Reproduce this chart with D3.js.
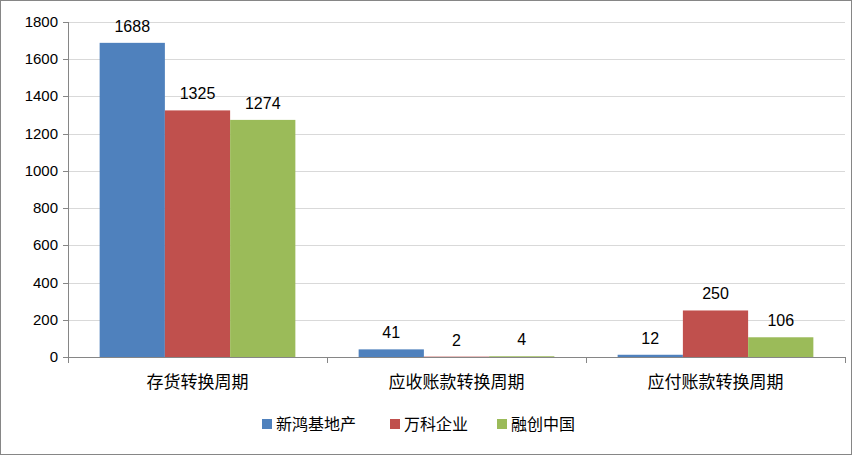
<!DOCTYPE html>
<html><head><meta charset="utf-8">
<script src="https://cdn.jsdelivr.net/npm/d3@7"></script>
<style>body{margin:0;background:#fff}</style>
</head><body><svg id="c" width="852" height="455"></svg>
<script>
var categories = ['存货转换周期', '应收账款转换周期', '应付账款转换周期'];
var seriesNames = ['新鸿基地产', '万科企业', '融创中国'];
var seriesColors = ['#4f81bd', '#c0504d', '#9bbb59'];
var xinhong = [1688, 41, 12];
var wanke = [1325, 2, 250];
var rongchuang = [1274, 4, 106];
var yTicks = [0, 200, 400, 600, 800, 1000, 1200, 1400, 1600, 1800];

var values = [xinhong, wanke, rongchuang];
var svg = d3.select('#c');
var font = '"Liberation Sans", "Noto Sans CJK SC", sans-serif';
var plotLeft = 68, plotRight = 845, plotTop = 22, plotBottom = 357;

svg.append('rect').attr('x', 0.5).attr('y', 0.5).attr('width', 851).attr('height', 454)
    .attr('fill', '#fff').attr('stroke', '#868686');

var y = d3.scaleLinear().domain([0, 1800]).range([plotBottom, plotTop]);
var x0 = d3.scaleBand().domain(categories).range([plotLeft, plotRight]);
var x1 = d3.scaleBand().domain(d3.range(3)).range([0, x0.bandwidth()]).paddingOuter(0.485).paddingInner(0);

svg.append('g').selectAll('line').data(yTicks).enter().append('line')
    .attr('x1', plotLeft).attr('x2', plotRight)
    .attr('y1', function (d) { return Math.round(y(d)) + 0.5; })
    .attr('y2', function (d) { return Math.round(y(d)) + 0.5; })
    .attr('stroke', function (d) { return d === 0 ? '#868686' : '#d9d9d9'; });

svg.append('g').selectAll('text').data(yTicks).enter().append('text')
    .attr('x', plotLeft - 10).attr('y', function (d) { return y(d) + 5; })
    .attr('text-anchor', 'end').attr('font-family', font).attr('font-size', 15)
    .text(function (d) { return d; });

svg.append('g').selectAll('line').data(yTicks).enter().append('line')
    .attr('x1', plotLeft - 5).attr('x2', plotLeft)
    .attr('y1', function (d) { return Math.round(y(d)) + 0.5; })
    .attr('y2', function (d) { return Math.round(y(d)) + 0.5; })
    .attr('stroke', '#868686');
svg.append('line').attr('x1', plotLeft + 0.5).attr('x2', plotLeft + 0.5).attr('y1', plotTop).attr('y2', plotBottom)
    .attr('stroke', '#868686');

var bounds = categories.map(function (c) { return x0(c); }).concat([plotRight]);
svg.append('g').selectAll('line').data(bounds).enter().append('line')
    .attr('x1', function (d) { return Math.round(d) + 0.5; })
    .attr('x2', function (d) { return Math.round(d) + 0.5; })
    .attr('y1', plotBottom).attr('y2', plotBottom + 6).attr('stroke', '#868686');

svg.append('g').selectAll('text').data(categories).enter().append('text')
    .attr('x', function (d) { return x0(d) + x0.bandwidth() / 2; })
    .attr('y', plotBottom + 31).attr('text-anchor', 'middle')
    .attr('font-family', font).attr('font-size', 17).text(function (d) { return d; });

var groups = svg.append('g').selectAll('g').data(categories).enter().append('g')
    .attr('transform', function (d) { return 'translate(' + x0(d) + ',0)'; });

groups.each(function (c, ci) {
    var g = d3.select(this);
    values.forEach(function (s, si) {
        var v = s[ci];
        g.append('rect').attr('x', x1(si)).attr('width', x1.bandwidth())
            .attr('y', y(v)).attr('height', plotBottom - y(v)).attr('fill', seriesColors[si]);
        g.append('text').attr('x', x1(si) + x1.bandwidth() / 2).attr('y', y(v) - 11)
            .attr('text-anchor', 'middle').attr('font-family', font).attr('font-size', 16)
            .text(v);
    });
});

var legendX = [262, 390, 497];
var legend = svg.append('g').selectAll('g').data(seriesNames).enter().append('g')
    .attr('transform', function (d, i) { return 'translate(' + legendX[i] + ',424)'; });
legend.append('rect').attr('x', 0).attr('y', -5).attr('width', 10).attr('height', 10)
    .attr('fill', function (d, i) { return seriesColors[i]; });
legend.append('text').attr('x', 14).attr('y', 6).attr('font-family', font).attr('font-size', 16)
    .text(function (d) { return d; });
</script></body></html>
